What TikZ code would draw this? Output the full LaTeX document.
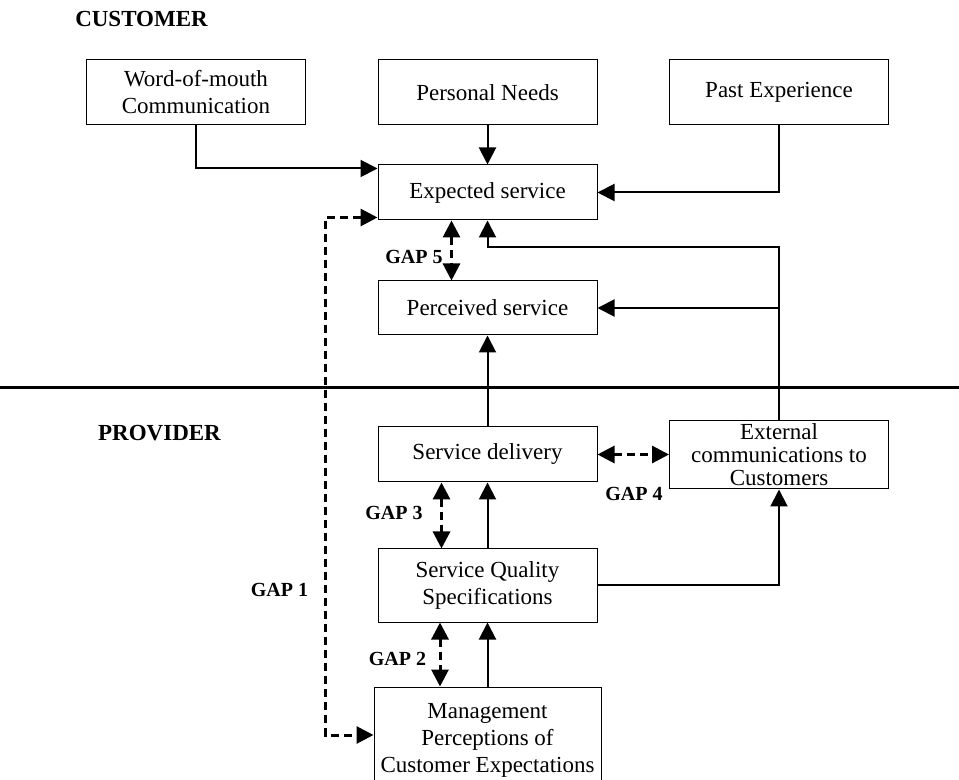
\documentclass[tikz,border=0pt]{standalone}
\usepackage{fontspec}
\setmainfont{Liberation Serif}
\usetikzlibrary{arrows.meta, positioning, calc}

\begin{document}
\begin{tikzpicture}[x=0.5pt, y=-0.5pt, font=\fontsize{11.5}{13.5}\selectfont,
    box/.style={draw, line width=0.5pt, minimum width=109.5pt, minimum height=#1, inner sep=1pt, align=center},
    flow/.style={line width=1pt, -{Triangle[length=8.5pt, width=8.5pt]}},
    gapline/.style={line width=1.5pt, dash pattern=on 4pt off 2.5pt, {Triangle[length=8.5pt, width=8.5pt]}-{Triangle[length=8.5pt, width=8.5pt]}},
    gaplabel/.style={font=\fontsize{10}{12}\selectfont\bfseries, inner sep=0pt},
    side/.style={font=\fontsize{11.5}{13.5}\selectfont\bfseries, inner sep=0pt}]
    \useasboundingbox (0,0) rectangle (959,780);
    \clip (0,0) rectangle (959,780);

    % customer side
    \node[side] (customer) at (141.5,19.5) {CUSTOMER};
    \node[box=32.5pt] (wom) at (196,92.5) {Word-of-mouth\\Communication};
    \node[box=32.5pt] (needs) at (487.5,92.5) {Personal Needs};
    \node[box=32.5pt] (past) at (779,92.5) {Past Experience};
    \node[box=27.5pt] (expected) at (487.5,192.5) {Expected service};
    \node[box=27pt] (perceived) at (487.5,308) {Perceived service};

    \draw[line width=1.5pt] (0,388) -- (959,388);

    % provider side
    \node[side] (provider) at (159.5,433) {PROVIDER};
    \node[box=27.5pt] (delivery) at (487.5,454.5) {Service delivery};
    \node[box=34pt, font=\fontsize{11.5}{11.5}\selectfont] (external) at (779,455) {External\\communications to\\Customers};
    \node[box=36.5pt] (sqs) at (487.5,585.5) {Service Quality\\Specifications};
    \node[box=53pt, minimum width=113.5pt] (mgmt) at (487.5,740) {Management\\Perceptions of\\Customer Expectations};

    \draw[flow] (wom.south) |- ([yshift=-2pt]expected.north west);
    \draw[flow] (needs.south) -- (expected.north);
    \draw[flow] (past.south) |- (expected.east);
    \coordinate (bend) at (779,247);
    \draw[flow] (external.north) -- (bend) -| (expected.south);
    \draw[flow] (external.north |- perceived.east) -- (perceived.east);
    \draw[flow] (delivery.north) -- (perceived.south);
    \draw[flow] (sqs.north) -- (delivery.south);
    \draw[flow] (mgmt.north) -- (sqs.south);
    \draw[flow] (sqs.east) -| (external.south);

    % gaps
    \draw[gapline] ([yshift=1.5pt]expected.south west) -- ++(-52,0) |- ([yshift=2.5pt]mgmt.west);
    \draw[gapline] ([xshift=-18pt]expected.south) -- ([xshift=-18pt]perceived.north);
    \draw[gapline] ([xshift=-23pt]delivery.south) -- ([xshift=-23pt]sqs.north);
    \draw[gapline] ([xshift=-23.75pt]sqs.south) -- ([xshift=-23.75pt]mgmt.north);
    \draw[gapline] (delivery.east) -- (delivery.east -| external.west);
    \foreach \x/\y/\n in {414/256.5/5, 394/512.5/3, 634/494/4, 397.5/658.5/2, 279.5/589.5/1}
        \node[gaplabel] (gap\n) at (\x,\y) {GAP \n};
\end{tikzpicture}
\end{document}
